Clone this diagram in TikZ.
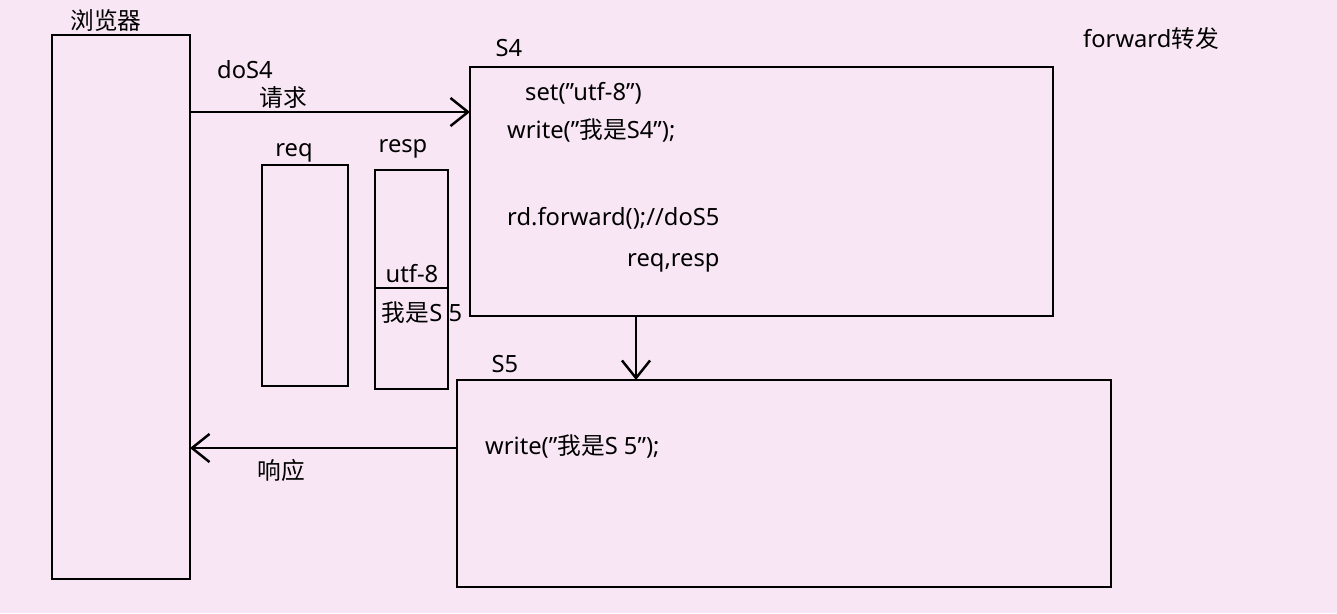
\documentclass[tikz,border=0pt]{standalone}
\usepackage{fontspec}
\setmainfont{Noto Sans}
\newfontfamily\cjk{Noto Sans CJK SC}
\usetikzlibrary{arrows.meta}
\begin{document}
\begin{tikzpicture}[x=0.02cm,y=-0.02cm,line width=1.4pt,font=\fontsize{13.5}{15}\selectfont]
\tikzset{
% boxes and labels
box/.style={draw,black},
txt/.style={inner sep=0pt,anchor=center},
ltxt/.style={inner sep=0pt,anchor=west},
arr/.style={-{Straight Barb[length=10pt,width=16pt,line width=1.4pt]}}
}
\fill[fill={rgb,255:red,248;green,230;blue,245}] (0,0) rectangle (1337,613);
\useasboundingbox (0,0) rectangle (1337,613);

% browser
\draw[box] (52,35) rectangle (190,579);
\node[txt] (browser) at (106,20) {\cjk 浏览器};

% request / response objects
\draw[box] (262,165) rectangle (348,386);
\node[txt] (req) at (294,153) {req};
\draw[box] (375,170) rectangle (448,389);
\draw[box] (375,288) -- (448,288);
\node[txt] (resp) at (403,149) {resp};
\node[txt] (enc) at (412,274) {utf-8};
\node[txt] (body) at (422,313) {{\cjk 我是}S 5};

% servlets
\draw[box] (470,67) rectangle (1053,316);
\node[txt] (s4) at (509,48) {S4};
\node[ltxt] (set) at (524,93) {set("utf-8")};
\node[ltxt] (w4) at (506,130) {write("{\cjk 我是}S4");};
\node[ltxt] (fw) at (506,218) {rd.forward();//doS5};
\node[ltxt] (rr) at (626,263) {req,resp};
\node[txt] (title) at (1151,38) {forward{\cjk 转发}};

\draw[box] (457,380) rectangle (1111,587);
\node[txt] (s5) at (505,364) {S5};
\node[ltxt] (w5) at (484,446) {write("{\cjk 我是}S 5");};

% arrows
\coordinate (a1) at (190,112);
\coordinate (a2) at (470,112);
\coordinate (b1) at (636,316);
\coordinate (b2) at (636,380);
\coordinate (c1) at (457,448);
\coordinate (c2) at (190,448);
\draw[arr] (a1) -- (a2);
\draw[arr] (b1) -- (b2);
\draw[arr] (c1) -- (c2);
\node[txt] (dos4) at (245,70) {doS4};
\node[txt] (qq) at (283,98) {\cjk 请求};
\node[txt] (xy) at (281,470) {\cjk 响应};
\end{tikzpicture}
\end{document}
